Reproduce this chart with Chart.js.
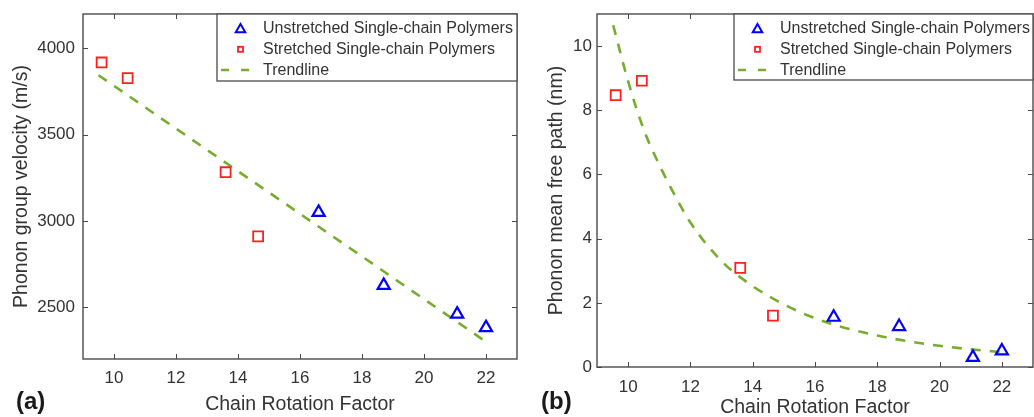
<!DOCTYPE html>
<html><head><meta charset="utf-8">
<script src="https://cdn.jsdelivr.net/npm/chart.js@4/dist/chart.umd.min.js"></script>
<style>
html,body{margin:0;padding:0;background:#fff;width:1034px;height:417px;overflow:hidden}
.panel{position:absolute;top:0;height:417px}
#pa{left:0;width:520px}
#pb{left:520px;width:514px}
canvas{display:block}
</style></head><body>
<div class="panel" id="pa"><canvas id="ca" width="520" height="417"></canvas></div>
<div class="panel" id="pb"><canvas id="cb" width="514" height="417"></canvas></div>
<script>
const xTicks = [10, 12, 14, 16, 18, 20, 22];
const velocityTicks = [2500, 3000, 3500, 4000];
const mfpTicks = [0, 2, 4, 6, 8, 10];

const unstretchedX = [16.6, 18.7, 21.07, 22.0];
const unstretchedVelocity = [3050, 2627, 2460, 2382];
const unstretchedMfp = [1.55, 1.26, 0.30, 0.50];

const stretchedX = [9.6, 10.44, 13.6, 14.65];
const stretchedVelocity = [3919, 3828, 3283, 2911];
const stretchedMfp = [8.47, 8.92, 3.09, 1.60];

const velocityTrendX = [9.5, 22.0];
const velocityTrendY = [3845, 2300];
const mfpTrendX = [9.52, 10, 10.5, 11, 11.5, 12, 13, 14, 15, 16, 17, 18, 19, 20, 21, 22];
const mfpTrendY = [10.65, 8.9, 7.4, 6.3, 5.35, 4.5, 3.3, 2.52, 1.95, 1.52, 1.21, 0.98, 0.80, 0.66, 0.55, 0.46];

const seriesLabels = ['Unstretched Single-chain Polymers', 'Stretched Single-chain Polymers', 'Trendline'];
const xTitle = 'Chain Rotation Factor';

const FONT = '"Liberation Sans", Arial, Helvetica, sans-serif';
const BLUE = '#0000ff', RED = '#ff1f1f', GREEN = '#77ac30', AXIS = '#4a4a4a', TEXT = '#333333';

const pts = (xs, ys) => xs.map((x, i) => ({x: x, y: ys[i]}));

function drawTri(ctx, x, y, r) {
  ctx.beginPath();
  ctx.moveTo(x, y - r);
  ctx.lineTo(x + r * Math.sin(2 * Math.PI / 3), y - r * Math.cos(2 * Math.PI / 3));
  ctx.lineTo(x + r * Math.sin(4 * Math.PI / 3), y - r * Math.cos(4 * Math.PI / 3));
  ctx.closePath();
  ctx.stroke();
}

function noPad(s) { s.paddingTop = 0; s.paddingBottom = 0; s.paddingLeft = 0; s.paddingRight = 0; }

const framePlugin = {
  id: 'frame',
  beforeDatasetsDraw(chart) {
    const a = chart.chartArea, ctx = chart.ctx;
    const xs = chart.scales.x, ys = chart.scales.y;
    ctx.save();
    ctx.strokeStyle = AXIS;
    ctx.lineWidth = 1;
    const tl = 5;
    ctx.beginPath();
    xs.ticks.forEach(t => {
      const px = Math.round(xs.getPixelForValue(t.value)) + 0.5;
      ctx.moveTo(px, a.bottom); ctx.lineTo(px, a.bottom - tl);
      ctx.moveTo(px, a.top); ctx.lineTo(px, a.top + tl);
    });
    ys.ticks.forEach(t => {
      const py = Math.round(ys.getPixelForValue(t.value)) + 0.5;
      ctx.moveTo(a.left, py); ctx.lineTo(a.left + tl, py);
      ctx.moveTo(a.right, py); ctx.lineTo(a.right - tl, py);
    });
    ctx.stroke();
    ctx.lineWidth = 1.4;
    ctx.strokeRect(a.left, a.top, a.right - a.left, a.bottom - a.top);
    ctx.restore();
  },
  afterDraw(chart) {
    const o = chart.options.plugins.frame;
    const ctx = chart.ctx;
    const L = o.legend;
    ctx.save();
    ctx.fillStyle = '#fff';
    ctx.fillRect(L.left, L.top, L.right - L.left, L.bottom - L.top);
    ctx.strokeStyle = AXIS;
    ctx.lineWidth = 1.3;
    ctx.strokeRect(L.left, L.top, L.right - L.left, L.bottom - L.top);
    ctx.font = '16px ' + FONT;
    ctx.textBaseline = 'middle';
    ctx.textAlign = 'left';
    chart.data.datasets.forEach((ds, i) => {
      const y = L.top + 14.5 + i * 20.8;
      ctx.save();
      ctx.strokeStyle = ds.borderColor;
      if (ds.showLine) {
        ctx.lineWidth = 2.5;
        ctx.setLineDash([8, 12]);
        ctx.beginPath();
        ctx.moveTo(L.left + 4, y); ctx.lineTo(L.left + 35, y);
        ctx.stroke();
      } else if (ds.pointStyle === 'triangle') {
        ctx.lineWidth = 2;
        drawTri(ctx, L.left + 23.5, y + 1, 5.5);
      } else {
        ctx.lineWidth = 1.8;
        ctx.strokeRect(L.left + 21, y - 2.5, 5, 5);
      }
      ctx.restore();
      ctx.fillStyle = TEXT;
      ctx.fillText(ds.label, L.left + 46, y);
    });
    ctx.font = 'bold 24px ' + FONT;
    ctx.fillStyle = '#1a1a1a';
    ctx.fillText(o.panel.text, o.panel.x, o.panel.y);
    ctx.restore();
  }
};

function makeChart(id, g) {
  const W = g.width, H = 417;
  return new Chart(document.getElementById(id), {
    type: 'scatter',
    data: {
      datasets: [
        {label: seriesLabels[0], data: pts(unstretchedX, g.unY), pointStyle: 'triangle', pointRadius: 7,
         borderColor: BLUE, backgroundColor: 'rgba(0,0,0,0)', pointBorderWidth: 2.2, showLine: false},
        {label: seriesLabels[1], data: pts(stretchedX, g.stY), pointStyle: 'rect', pointRadius: 7,
         borderColor: RED, backgroundColor: 'rgba(0,0,0,0)', pointBorderWidth: 1.8, showLine: false},
        {label: seriesLabels[2], data: pts(g.trX, g.trY), showLine: true, pointRadius: 0,
         borderColor: GREEN, borderWidth: 2.6, borderDash: [10, 9], tension: g.tension,
         cubicInterpolationMode: g.tension ? 'monotone' : 'default', fill: false}
      ]
    },
    options: {
      responsive: false,
      animation: false,
      devicePixelRatio: 1,
      layout: {autoPadding: false, padding: {top: g.top, right: W - g.right, left: 0, bottom: 0}},
      plugins: {
        legend: {display: false},
        tooltip: {enabled: false},
        frame: {legend: g.legend, panel: g.panel}
      },
      scales: {
        x: {
          type: 'linear', min: 9, max: 23,
          afterBuildTicks: s => { s.ticks = xTicks.map(v => ({value: v})); },
          afterFit: s => { s.height = H - g.bottom; noPad(s); },
          grid: {display: false, drawTicks: false},
          border: {display: false},
          ticks: {color: TEXT, font: {family: FONT, size: 17}, padding: g.xTickPad, maxRotation: 0,
                  callback: v => String(v)},
          title: {display: true, text: xTitle, color: TEXT, font: {family: FONT, size: 19.5, lineHeight: 1},
                  padding: {top: 0, bottom: g.xTitlePad}}
        },
        y: {
          type: 'linear', min: g.ymin, max: g.ymax,
          afterBuildTicks: s => { s.ticks = g.yTicks.map(v => ({value: v})); },
          afterFit: s => { s.width = g.left; noPad(s); },
          grid: {display: false, drawTicks: false},
          border: {display: false},
          ticks: {color: TEXT, font: {family: FONT, size: 17}, padding: g.yTickPad,
                  callback: v => String(v)},
          title: {display: true, text: g.yTitle, color: TEXT, font: {family: FONT, size: 19.5, lineHeight: 1},
                  padding: {top: g.yTitlePad, bottom: 0}}
        }
      }
    },
    plugins: [framePlugin]
  });
}

makeChart('ca', {
  width: 520, left: 83, top: 14, right: 517, bottom: 359,
  ymin: 2200, ymax: 4200, yTicks: velocityTicks,
  unY: unstretchedVelocity, stY: stretchedVelocity,
  trX: velocityTrendX, trY: velocityTrendY, tension: 0,
  yTitle: 'Phonon group velocity (m/s)',
  xTickPad: 9, xTitlePad: 3, yTickPad: 8, yTitlePad: 12,
  legend: {left: 217, top: 14, right: 517, bottom: 81},
  panel: {text: '(a)', x: 16, y: 402}
});

makeChart('cb', {
  width: 514, left: 77, top: 14, right: 513, bottom: 367,
  ymin: 0, ymax: 11, yTicks: mfpTicks,
  unY: unstretchedMfp, stY: stretchedMfp,
  trX: mfpTrendX, trY: mfpTrendY, tension: 0.4,
  yTitle: 'Phonon mean free path (nm)',
  xTickPad: 10, xTitlePad: 0, yTickPad: 5, yTitlePad: 27,
  legend: {left: 214, top: 14, right: 513, bottom: 80},
  panel: {text: '(b)', x: 21, y: 402}
});
</script>
</body></html>
